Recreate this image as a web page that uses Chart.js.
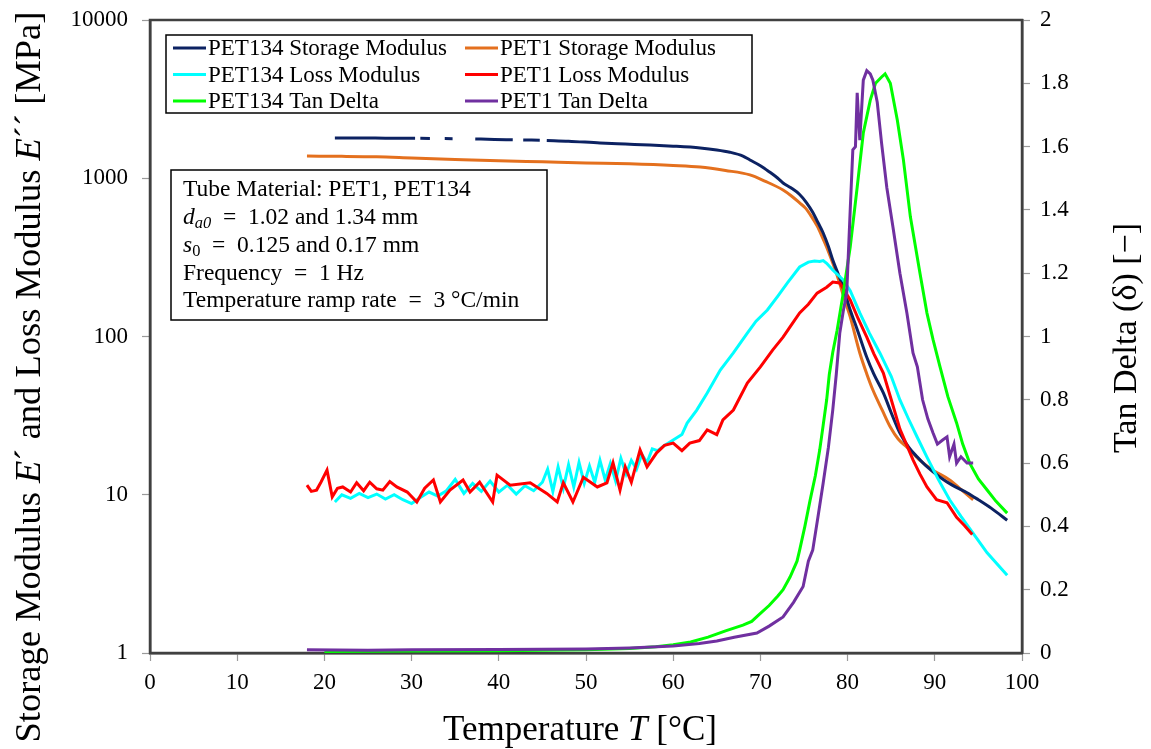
<!DOCTYPE html>
<html lang="en">
<head>
    <meta charset="UTF-8">
    <title>DMA PET1 / PET134</title>
    <style>
        html, body { margin: 0; padding: 0; background: #fff; }
        canvas { display: block; }
    </style>
</head>
<body>
<canvas id="dmaChart" width="1151" height="749"></canvas>

<script src="https://cdn.jsdelivr.net/npm/chart.js"></script>
<script>
    // PET134 storage modulus E' [MPa] (null = gap in the measured trace)
    const pet134StorageT = [21.2, 24, 27, 30.4, 30.7, 31.0, 32.1, 33, 33.8, 34.7, 36, 37.3, 39.5, 41.6, 42.2, 42.8, 44.7, 45.1, 45.5, 48, 51.6, 54.5, 57.3, 60, 63.1, 65, 66.5, 68, 68.8, 70, 71, 72, 72.6, 73.5, 74.5, 75.3, 76, 76.6, 77.2, 77.8, 78.3, 78.9, 79.5, 80.3, 81, 81.6, 82.2, 83, 84.1, 85, 86, 87, 88, 89, 90.6, 92, 93.7, 95, 96.5, 98.3];
    const pet134StorageE = [1795, 1795, 1792, 1790, null, 1788, 1785, null, 1780, 1778, null, 1770, 1760, 1750, null, 1745, 1738, null, 1735, 1715, 1670, 1645, 1622, 1595, 1553, 1510, 1460, 1380, 1304, 1200, 1100, 1000, 934, 870, 790, 700, 610, 525, 451, 370, 304, 250, 205, 147, 115, 92, 74, 58, 44, 33, 24.5, 20, 17.3, 15.2, 12.9, 11.5, 10.3, 9.3, 8.2, 6.9];

    // PET1 storage modulus
    const pet1StorageT = [18, 22, 26, 30, 35, 40, 45, 50, 55, 60, 63.1, 66, 68.8, 70.5, 72.6, 73.6, 74.5, 75.2, 75.7, 76.5, 77.1, 77.6, 78.3, 79, 79.6, 80.3, 81.4, 82.2, 82.9, 84, 84.9, 85.8, 86.8, 88.3, 89.8, 91.7, 93, 94.4];
    const pet1StorageE = [1380, 1375, 1365, 1342, 1315, 1290, 1270, 1250, 1233, 1205, 1178, 1120, 1050, 960, 843, 770, 698, 645, 590, 500, 425, 367, 291, 225, 175, 133, 78.6, 58, 45.9, 34, 26.8, 22.5, 20.0, 16.5, 14.3, 12.4, 10.8, 9.3];

    // PET134 loss modulus E'' [MPa]
    const pet134LossT = [21.2, 22, 23, 24, 25, 26, 27, 28, 29, 30, 31, 32, 33, 34, 35, 36, 37, 38, 39, 40, 41, 42, 43, 44, 45, 45.6, 46.2, 46.8, 47.4, 48, 48.6, 49.2, 49.8, 50.4, 51, 51.6, 52.2, 52.8, 53.4, 54, 54.6, 55.2, 55.8, 56.4, 57, 57.6, 58.2, 59, 60, 61, 61.6, 62.7, 63.9, 65.4, 66.9, 68.5, 69.5, 70.8, 72, 73.1, 74.5, 75.5, 76.2, 76.8, 77.2, 77.6, 78.3, 79.5, 80.3, 81.4, 82.5, 83.7, 85, 86, 87, 88, 89.1, 90.4, 91.7, 93, 94.4, 96, 98.3];
    const pet134LossE = [9.0, 10.0, 9.5, 10.2, 9.6, 10.1, 9.4, 10.0, 9.3, 8.8, 9.6, 10.4, 9.8, 10.6, 12.5, 10.2, 11.8, 10.5, 12.2, 10.4, 11.5, 10.1, 11.4, 10.6, 12.0, 14.5, 10.5, 15.0, 11.0, 15.5, 11.2, 16.0, 11.8, 15.2, 12.0, 16.5, 12.4, 15.8, 12.2, 17.0, 13.5, 16.5, 14.5, 18.0, 16.0, 19.5, 19.0, 20.5, 22.2, 24, 28.4, 34.3, 44, 61.4, 78.7, 105, 125, 147, 180, 218, 275, 295, 300, 298, 302, 290, 263, 228, 195, 141, 105, 78.7, 56, 39.7, 30, 23, 17.3, 12.5, 9.3, 7.3, 5.7, 4.3, 3.1];

    // PET1 loss modulus
    const pet1LossT = [18, 18.5, 19.1, 19.6, 20.3, 20.9, 21.5, 22.1, 23, 23.7, 24.5, 25.2, 26, 26.7, 27.5, 28.3, 29.5, 30.6, 31.5, 32.5, 33.3, 34.4, 35.9, 36.7, 37.8, 39.3, 39.8, 41.3, 43.6, 45.5, 46.7, 47.4, 48.5, 49.7, 51.3, 52.4, 53.1, 53.9, 54.5, 55.2, 56.2, 57, 58.1, 59, 60, 61, 61.9, 63, 63.9, 65, 65.7, 66.9, 68.5, 70, 71.4, 72.6, 73.4, 74.5, 75.5, 76.5, 77.6, 78.3, 79.1, 80.3, 81.2, 82.2, 83, 84.1, 85, 86, 86.8, 87.5, 88.3, 89.1, 90.2, 91.4, 92.5, 93.4, 94.3];
    const pet1LossE = [11.5, 10.5, 10.7, 12, 14.3, 9.7, 11, 11.2, 10.4, 11.9, 10.6, 12.0, 10.9, 10.7, 12.1, 11.2, 10.4, 9.0, 11, 12.4, 9.0, 10.7, 12.4, 10.4, 12, 9.0, 13.3, 11.5, 11.9, 10.2, 9.0, 11.9, 9.0, 12.9, 11.2, 11.9, 15.9, 10.7, 15, 12, 19.2, 15, 18.4, 20.5, 21.2, 19, 21.2, 22, 25.7, 24, 29.7, 34.3, 50.8, 64.2, 82, 99, 115, 141, 160, 188, 205, 221, 218, 170, 130, 99, 78, 58.8, 40, 26, 20.5, 16.6, 13.5, 11.2, 9.3, 8.9, 7.2, 6.4, 5.6];

    // PET134 tan delta [-]
    const pet134TanT = [20, 30, 40, 50, 55, 58, 60, 62, 64, 66, 68, 69, 70, 71, 72, 72.6, 73.4, 74.2, 74.5, 75.1, 75.7, 76.3, 76.8, 77.2, 77.6, 77.9, 78.3, 78.8, 79.5, 80.3, 81.1, 81.8, 82.6, 83.2, 83.9, 84.3, 84.9, 85.7, 86.4, 87.2, 88.3, 89.1, 89.8, 90.6, 91.5, 92.5, 93.2, 94, 95, 96, 97, 98.3];
    const pet134Tan = [0.005, 0.006, 0.007, 0.01, 0.014, 0.02, 0.026, 0.035, 0.05, 0.07, 0.088, 0.1, 0.125, 0.15, 0.18, 0.2, 0.24, 0.29, 0.325, 0.4, 0.483, 0.56, 0.641, 0.72, 0.8, 0.88, 0.95, 1.02, 1.137, 1.283, 1.472, 1.643, 1.747, 1.8, 1.82, 1.83, 1.80, 1.684, 1.558, 1.378, 1.2, 1.074, 0.99, 0.904, 0.81, 0.727, 0.66, 0.6, 0.55, 0.515, 0.48, 0.442];

    // PET1 tan delta
    const pet1TanT = [18, 25, 30, 40, 50, 55, 60, 63, 65, 67, 69.6, 71, 72.6, 73.8, 74.9, 75.5, 76, 76.6, 77.2, 77.8, 78.3, 78.7, 79.1, 79.5, 79.9, 80.3, 80.6, 80.9, 81.1, 81.4, 81.8, 82.2, 82.6, 82.9, 83.4, 83.9, 84.5, 85.2, 86, 86.8, 87.5, 88, 88.6, 89.2, 89.8, 90.3, 90.9, 91.4, 91.7, 92.2, 92.5, 93, 93.7, 94.4];
    const pet1Tan = [0.01, 0.009, 0.01, 0.011, 0.013, 0.016, 0.022, 0.03, 0.038, 0.05, 0.063, 0.085, 0.114, 0.16, 0.21, 0.29, 0.325, 0.43, 0.537, 0.65, 0.768, 0.88, 1.01, 1.08, 1.137, 1.40, 1.59, 1.6, 1.77, 1.62, 1.81, 1.84, 1.83, 1.81, 1.74, 1.61, 1.47, 1.346, 1.2, 1.074, 0.948, 0.904, 0.8, 0.74, 0.695, 0.66, 0.673, 0.683, 0.62, 0.66, 0.6, 0.62, 0.6, 0.6];

    // axis ticks
    const xTicks = [0, 10, 20, 30, 40, 50, 60, 70, 80, 90, 100];
    const modulusTicks = [1, 10, 100, 1000, 10000];
    const tanTicks = [0, 0.2, 0.4, 0.6, 0.8, 1, 1.2, 1.4, 1.6, 1.8, 2];

    const legendLabels = ['PET134 Storage Modulus', 'PET1 Storage Modulus', 'PET134 Loss Modulus', 'PET1 Loss Modulus', 'PET134 Tan Delta', 'PET1 Tan Delta'];
    const legendColors = ['#0c2262', '#e4701e', '#00ffff', '#ff0000', '#00ff00', '#7030a0'];

    const SERIF = '"Liberation Serif", "Times New Roman", serif';
    const SP = '\u2002'; // wider space around "=" like the math font in the original

    function pts(xs, ys) {
        return xs.map((x, i) => ({ x: x, y: ys[i] }));
    }

    // draw a line of text made of plain / italic / subscript parts
    function richText(ctx, parts, x, y, size) {
        let cx = x;
        parts.forEach(p => {
            const s = p.sub ? size * 0.7 : size;
            ctx.font = (p.it ? 'italic ' : '') + s + 'px ' + SERIF;
            ctx.fillText(p.t, cx, p.sub ? y + size * 0.25 : y);
            cx += ctx.measureText(p.t).width;
        });
        return cx - x;
    }
    function richWidth(ctx, parts, size) {
        let w = 0;
        parts.forEach(p => {
            const s = p.sub ? size * 0.7 : size;
            ctx.font = (p.it ? 'italic ' : '') + s + 'px ' + SERIF;
            w += ctx.measureText(p.t).width;
        });
        return w;
    }
    function centeredRich(ctx, parts, cx, cy, size, angle) {
        ctx.save();
        ctx.translate(cx, cy);
        ctx.rotate(angle);
        ctx.textBaseline = 'middle';
        ctx.textAlign = 'left';
        ctx.fillStyle = '#000';
        const w = richWidth(ctx, parts, size);
        richText(ctx, parts, -w / 2, 0, size);
        ctx.restore();
    }

    // frame, legend box, info box and axis titles
    const decorPlugin = {
        id: 'decor',
        beforeDatasetsDraw(chart) {
            const ctx = chart.ctx, a = chart.chartArea;
            ctx.save();
            ctx.strokeStyle = '#404040';
            ctx.lineWidth = 2.5;
            ctx.strokeRect(a.left, a.top, a.right - a.left, a.bottom - a.top);
            ctx.restore();
        },
        afterDraw(chart) {
            const ctx = chart.ctx;
            ctx.save();

            // legend
            ctx.fillStyle = '#fff';
            ctx.fillRect(166, 35, 586, 78);
            ctx.strokeStyle = '#000';
            ctx.lineWidth = 1.5;
            ctx.strokeRect(166, 35, 586, 78);
            ctx.textBaseline = 'middle';
            ctx.font = '23px ' + SERIF;
            legendLabels.forEach((lab, i) => {
                const col = i % 2, row = Math.floor(i / 2);
                const lx = col === 0 ? 173 : 465;
                const ly = 48 + row * 26.5;
                ctx.strokeStyle = legendColors[i];
                ctx.lineWidth = 3;
                ctx.beginPath();
                ctx.moveTo(lx, ly);
                ctx.lineTo(lx + 33, ly);
                ctx.stroke();
                ctx.fillStyle = '#000';
                ctx.fillText(lab, lx + 35, ly + 1);
            });

            // test conditions box
            ctx.fillStyle = '#fff';
            ctx.fillRect(171, 170, 376, 150);
            ctx.strokeStyle = '#000';
            ctx.lineWidth = 1.5;
            ctx.strokeRect(171, 170, 376, 150);
            ctx.fillStyle = '#000';
            const info = [
                [{ t: 'Tube Material: PET1, PET134' }],
                [{ t: 'd', it: true }, { t: 'a0', it: true, sub: true }, { t: SP + '=' + SP + '1.02 and 1.34 mm' }],
                [{ t: 's', it: true }, { t: '0', sub: true }, { t: SP + '=' + SP + '0.125 and 0.17 mm' }],
                [{ t: 'Frequency' + SP + '=' + SP + '1 Hz' }],
                [{ t: 'Temperature ramp rate' + SP + '=' + SP + '3 °C/min' }]
            ];
            info.forEach((parts, i) => richText(ctx, parts, 183, 190 + i * 27.8, 23.5));

            // axis titles
            centeredRich(ctx, [{ t: 'Temperature ' }, { t: 'T', it: true }, { t: ' [°C]' }], 580, 731, 35, 0);
            centeredRich(ctx, [{ t: 'Storage Modulus ' }, { t: 'E', it: true }, { t: '´ and Loss Modulus ' }, { t: 'E', it: true }, { t: '´´ [MPa]' }], 30, 377, 36.5, -Math.PI / 2);
            centeredRich(ctx, [{ t: 'Tan Delta (δ) [−]' }], 1127, 338, 34, -Math.PI / 2);
            ctx.restore();
        }
    };

    // keep the plot area fixed: no extra room for half labels at the ends
    function noEndPadding(s) {
        s.paddingTop = 0;
        s.paddingBottom = 0;
        s.paddingLeft = 0;
        s.paddingRight = 0;
    }

    const lineStyle = { pointRadius: 0, borderWidth: 3, fill: false, spanGaps: false };

    const chart = new Chart(document.getElementById('dmaChart').getContext('2d'), {
        type: 'line',
        data: {
            datasets: [
                Object.assign({ label: legendLabels[5], data: pts(pet1TanT, pet1Tan), borderColor: legendColors[5], yAxisID: 'yTan', order: 1, tension: 0 }, lineStyle),
                Object.assign({ label: legendLabels[4], data: pts(pet134TanT, pet134Tan), borderColor: legendColors[4], yAxisID: 'yTan', order: 2, tension: 0 }, lineStyle),
                Object.assign({ label: legendLabels[3], data: pts(pet1LossT, pet1LossE), borderColor: legendColors[3], yAxisID: 'yMod', order: 3, tension: 0 }, lineStyle),
                Object.assign({ label: legendLabels[2], data: pts(pet134LossT, pet134LossE), borderColor: legendColors[2], yAxisID: 'yMod', order: 4, tension: 0 }, lineStyle),
                Object.assign({ label: legendLabels[0], data: pts(pet134StorageT, pet134StorageE), borderColor: legendColors[0], yAxisID: 'yMod', order: 5, cubicInterpolationMode: 'monotone' }, lineStyle),
                Object.assign({ label: legendLabels[1], data: pts(pet1StorageT, pet1StorageE), borderColor: legendColors[1], yAxisID: 'yMod', order: 6, cubicInterpolationMode: 'monotone' }, lineStyle)
            ]
        },
        options: {
            responsive: false,
            animation: false,
            devicePixelRatio: 1,
            layout: { padding: { top: 20, left: 0, right: 0, bottom: 0 } },
            plugins: {
                legend: { display: false },
                tooltip: { enabled: false }
            },
            scales: {
                x: {
                    type: 'linear',
                    min: 0, max: 100,
                    afterBuildTicks: s => { s.ticks = xTicks.map(v => ({ value: v })); },
                    afterFit: s => { s.height = 96; noEndPadding(s); },
                    ticks: { color: '#000', font: { family: SERIF, size: 23 }, padding: 8, maxRotation: 0 },
                    grid: { drawOnChartArea: false, tickLength: 8, color: '#9a9a9a', tickWidth: 1.2 },
                    border: { color: '#404040', width: 2.5 }
                },
                yMod: {
                    type: 'logarithmic',
                    position: 'left',
                    min: 1, max: 10000,
                    afterBuildTicks: s => { s.ticks = modulusTicks.map(v => ({ value: v })); },
                    afterFit: s => { s.width = 150; noEndPadding(s); },
                    ticks: { color: '#000', font: { family: SERIF, size: 23 }, padding: 14, callback: v => String(v) },
                    grid: { drawOnChartArea: false, tickLength: 8, color: '#9a9a9a', tickWidth: 1.2 },
                    border: { color: '#404040', width: 2.5 }
                },
                yTan: {
                    type: 'linear',
                    position: 'right',
                    min: 0, max: 2,
                    afterBuildTicks: s => { s.ticks = tanTicks.map(v => ({ value: v })); },
                    afterFit: s => { s.width = 129; noEndPadding(s); },
                    ticks: { color: '#000', font: { family: SERIF, size: 23 }, padding: 10, callback: v => String(Number(v.toFixed(1))) },
                    grid: { drawOnChartArea: false, tickLength: 8, color: '#9a9a9a', tickWidth: 1.2 },
                    border: { color: '#404040', width: 2.5 }
                }
            }
        },
        plugins: [decorPlugin]
    });
</script>
</body>
</html>
